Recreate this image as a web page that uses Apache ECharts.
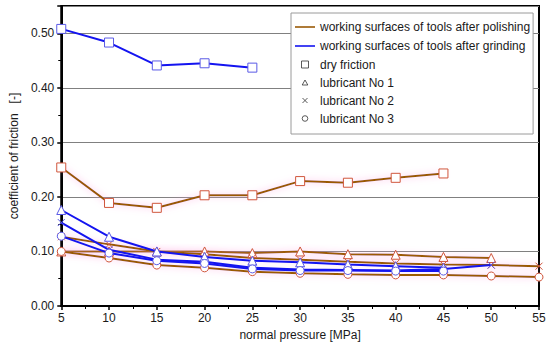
<!DOCTYPE html>
<html>
<head>
<meta charset="utf-8">
<script src="https://cdn.jsdelivr.net/npm/echarts@6/dist/echarts.min.js"></script>
<style>
html,body{margin:0;padding:0;background:#fff;}
#chart{width:550px;height:347px;}
</style>
</head>
<body>
<div id="chart"></div>
<script>
// ---- data ----
var pressure = [5, 10, 15, 20, 25, 30, 35, 40, 45, 50, 55];
var yTicks = [0.00, 0.10, 0.20, 0.30, 0.40, 0.50];

// polishing (brown lines)
var polDry  = [0.254, 0.189, 0.180, 0.203, 0.203, 0.229, 0.226, 0.235, 0.243];
var polLub1 = [0.100, 0.100, 0.100, 0.100, 0.097, 0.100, 0.095, 0.094, 0.090, 0.088];
var polLub2 = [0.127, 0.113, 0.100, 0.095, 0.088, 0.085, 0.081, 0.078, 0.076, 0.075, 0.073];
var polLub3 = [0.100, 0.088, 0.075, 0.070, 0.063, 0.060, 0.058, 0.057, 0.057, 0.055, 0.053];

// grinding (blue lines)
var griDry  = [0.508, 0.483, 0.441, 0.445, 0.437];
var griLub1 = [0.176, 0.127, 0.100, 0.090, 0.083, 0.080, 0.076, 0.073, 0.070];
var griLub2 = [0.153, 0.103, 0.085, 0.081, 0.070, 0.067, 0.066, 0.065, 0.068, 0.075];
var griLub3 = [0.128, 0.097, 0.083, 0.078, 0.068, 0.065, 0.065, 0.064, 0.064];

var nameP = 'working surfaces of tools after polishing';
var nameG = 'working surfaces of tools after grinding';
var nameDry = 'dry friction', nameL1 = 'lubricant No 1', nameL2 = 'lubricant No 2', nameL3 = 'lubricant No 3';

// ---- styles ----
var brown = '#9a5a06', blue = '#1414f0';
var markP = '#d0563c', markG = '#5a5ae6';
var symSquare = 'rect';
var symTri = 'triangle';
var symX = 'path://M0,0L10,10M10,0L0,10';
var symCircle = 'circle';

function pairs(vals) { return vals.map(function (v, i) { return [pressure[i], v]; }); }

function mk(name, vals, lineColor, markColor, symbol, size, halo) {
  return {
    name: name, type: 'line', data: pairs(vals),
    symbol: symbol, symbolSize: size, showAllSymbol: true,
    itemStyle: { color: '#fff', borderColor: markColor, borderWidth: 1 },
    lineStyle: halo ? { color: lineColor, width: 2, shadowColor: 'rgba(255,170,225,0.85)', shadowBlur: 7 }
                    : { color: lineColor, width: 2 },
    emphasis: { disabled: true }, silent: true, z: halo ? 2 : 3
  };
}

var series = [
  mk('pol dry', polDry, brown, markP, symSquare, 9, true),
  mk('pol lub1', polLub1, brown, markP, symTri, 9, true),
  mk('pol lub2', polLub2, brown, markP, symX, 7, true),
  mk('pol lub3', polLub3, brown, markP, symCircle, 8, true),
  mk('gri dry', griDry, blue, markG, symSquare, 9, false),
  mk('gri lub1', griLub1, blue, markG, symTri, 9, false),
  mk('gri lub2', griLub2, blue, markG, symX, 7, false),
  mk('gri lub3', griLub3, blue, markG, symCircle, 8, false),
  // legend-only series
  { name: nameP, type: 'scatter', data: [] },
  { name: nameG, type: 'scatter', data: [] },
  { name: nameDry, type: 'scatter', data: [] },
  { name: nameL1, type: 'scatter', data: [] },
  { name: nameL2, type: 'scatter', data: [] },
  { name: nameL3, type: 'scatter', data: [] }
];

var iconStyle = { color: 'rgba(0,0,0,0)', borderColor: '#333', borderWidth: 1 };
var legendData = [
  { name: nameP, icon: 'path://M0,0M20,12M0,6L20,6', itemStyle: { color: 'rgba(0,0,0,0)', borderColor: brown, borderWidth: 2 } },
  { name: nameG, icon: 'path://M0,0M20,12M0,6L20,6', itemStyle: { color: 'rgba(0,0,0,0)', borderColor: blue, borderWidth: 2 } },
  { name: nameDry, icon: 'path://M0,0M20,12M6.5,2.5L13.5,2.5L13.5,9.5L6.5,9.5Z', itemStyle: iconStyle },
  { name: nameL1, icon: 'path://M0,0M20,12M10,3.5L12.8,8.5L7.2,8.5Z', itemStyle: iconStyle },
  { name: nameL2, icon: 'path://M0,0M20,12M7.5,3.5L12.5,8.5M12.5,3.5L7.5,8.5', itemStyle: iconStyle },
  { name: nameL3, icon: 'path://M0,0M20,12M12.8,6A2.8,2.8 0 1 1 7.2,6A2.8,2.8 0 1 1 12.8,6Z', itemStyle: iconStyle }
];

var chart = echarts.init(document.getElementById('chart'), null, { renderer: 'svg' });
chart.setOption({
  animation: false,
  backgroundColor: '#fff',
  textStyle: { fontFamily: 'Liberation Sans, Arial, sans-serif' },
  grid: { left: 54, right: 11, top: 6, bottom: 41, show: true, borderColor: '#000', borderWidth: 2, backgroundColor: 'rgba(0,0,0,0)' },
  legend: {
    orient: 'vertical', left: 291, top: 13,
    padding: [7, 3, 9, 3], itemGap: 5, itemWidth: 20, itemHeight: 12, itemTextGap: 3,
    backgroundColor: '#fff', borderColor: '#9a9a9a', borderWidth: 1,
    textStyle: { fontSize: 12, color: '#1a1a1a', fontFamily: 'Liberation Sans, Arial, sans-serif' },
    data: legendData, selectedMode: false, z: 10
  },
  xAxis: {
    type: 'value', min: 5, max: 55, interval: 5,
    name: 'normal pressure [MPa]', nameLocation: 'middle', nameGap: 18,
    nameTextStyle: { fontSize: 12, color: '#1a1a1a' },
    axisLine: { lineStyle: { color: '#000', width: 2 } },
    axisTick: { show: true, length: 4, lineStyle: { color: '#000', width: 1.5 } },
    minorTick: { show: true, splitNumber: 2, length: 3, lineStyle: { color: '#000', width: 1 } },
    axisLabel: { fontSize: 12, color: '#1a1a1a', margin: 6 },
    splitLine: { show: false }
  },
  yAxis: {
    type: 'value', min: 0, max: 0.55, interval: 0.1,
    name: 'coefficient of friction   [-]', nameLocation: 'middle', nameGap: 38, nameRotate: 90,
    nameTextStyle: { fontSize: 12, color: '#1a1a1a' },
    axisLine: { lineStyle: { color: '#000', width: 2 } },
    axisTick: { show: true, length: 4, lineStyle: { color: '#000', width: 1.5 } },
    minorTick: { show: true, splitNumber: 2, length: 3, lineStyle: { color: '#000', width: 1 } },
    axisLabel: {
      fontSize: 12, color: '#1a1a1a', margin: 7,
      formatter: function (v) {
        for (var i = 0; i < yTicks.length; i++) { if (Math.abs(yTicks[i] - v) < 1e-6) return yTicks[i].toFixed(2); }
        return '';
      }
    },
    splitLine: { show: true, lineStyle: { color: '#808080', width: 1 } }
  },
  series: series
});
</script>
</body>
</html>
